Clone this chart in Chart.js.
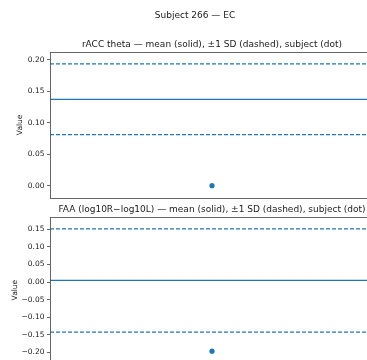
<!DOCTYPE html>
<html>
<head>
<meta charset="utf-8">
<script src="https://cdn.jsdelivr.net/npm/chart.js@4/dist/chart.umd.min.js"></script>
<style>
  html, body { margin: 0; padding: 0; background: #fff; overflow: hidden; }
  #wrap { position: relative; width: 367px; height: 360px; overflow: hidden; }
  canvas { position: absolute; left: 0; }
  #top { top: 0; }
  #bottom { top: 200px; }
</style>
</head>
<body>
<div id="wrap">
  <canvas id="top" width="400" height="205"></canvas>
  <canvas id="bottom" width="400" height="175"></canvas>
</div>
<script>
// Figure text
const figureTitle = 'Subject 266 \u2014 EC';
const panelTitles = [
  'rACC theta \u2014 mean (solid), \u00b11 SD (dashed), subject (dot)',
  'FAA (log10R\u2212log10L) \u2014 mean (solid), \u00b11 SD (dashed), subject (dot)'
];
const yAxisLabel = 'Value';

// Group statistics and the subject's own value, one entry per panel
const meanValues = [0.1376, 0.0046];
const sdValues = [0.0561, 0.1470];
const subjectValues = [0.0005, -0.197];

// Axis ranges and tick labels
const xRange = [-1, 1];
const subjectX = 0;
const yRanges = [[-0.0186, 0.2127], [-0.232, 0.186]];
const yTicks = [
  [0.00, 0.05, 0.10, 0.15, 0.20],
  [-0.20, -0.15, -0.10, -0.05, 0.00, 0.05, 0.10, 0.15]
];

const C0 = '#1f77b4';
const FONT = "'DejaVu Sans', sans-serif";

function fmtTick(v) {
  const s = Math.abs(v).toFixed(2);
  return (v < -1e-9 ? '\u2212' : '') + s;
}

// Draws the axes box, the panel title, the y label and (optionally) the figure title
function frameAndText(idx, labelX, withFigureTitle) {
  return {
    id: 'frameAndText' + idx,
    afterDatasetsDraw(chart) {
      const { ctx, chartArea: a } = chart;
      ctx.save();
      ctx.strokeStyle = '#555';
      ctx.lineWidth = 0.9;
      ctx.strokeRect(Math.round(a.left) + 0.5, Math.round(a.top) + 0.5,
                     Math.round(a.right - a.left), Math.round(a.bottom - a.top));
      ctx.fillStyle = '#1a1a1a';
      ctx.textAlign = 'center';
      ctx.textBaseline = 'middle';
      ctx.font = '9px ' + FONT;
      ctx.fillText(panelTitles[idx], (a.left + a.right) / 2, a.top - 7.5);
      if (withFigureTitle) {
        ctx.fillText(figureTitle, 195, 16);
      }
      ctx.font = '7.5px ' + FONT;
      ctx.translate(labelX, (a.top + a.bottom) / 2);
      ctx.rotate(-Math.PI / 2);
      ctx.fillText(yAxisLabel, 0, 0);
      ctx.restore();
    }
  };
}

function makePanel(canvasId, idx, padding, labelX, withFigureTitle) {
  const mean = meanValues[idx];
  const sd = sdValues[idx];
  const hline = (y, dash) => ({
    data: [{ x: xRange[0], y: y }, { x: xRange[1], y: y }],
    showLine: true,
    borderColor: C0,
    borderWidth: 1.2,
    borderDash: dash,
    pointRadius: 0,
    pointHoverRadius: 0
  });
  return new Chart(document.getElementById(canvasId), {
    type: 'scatter',
    data: {
      datasets: [
        hline(mean, []),
        hline(mean + sd, [4, 2]),
        hline(mean - sd, [4, 2]),
        {
          data: [{ x: subjectX, y: subjectValues[idx] }],
          showLine: false,
          pointRadius: 2.6,
          pointBackgroundColor: C0,
          pointBorderWidth: 0
        }
      ]
    },
    options: {
      responsive: false,
      animation: false,
      events: [],
      layout: { padding: padding },
      plugins: { legend: { display: false }, tooltip: { enabled: false }, title: { display: false } },
      scales: {
        x: {
          type: 'linear',
          min: xRange[0],
          max: xRange[1],
          ticks: { display: false },
          grid: { display: false },
          border: { display: false },
          afterFit(s) { s.height = 0; }
        },
        y: {
          type: 'linear',
          min: yRanges[idx][0],
          max: yRanges[idx][1],
          afterBuildTicks(s) { s.ticks = yTicks[idx].map(v => ({ value: v })); },
          ticks: {
            callback: v => fmtTick(v),
            font: { family: FONT, size: 7.5 },
            color: '#222',
            padding: 2.5
          },
          grid: {
            display: true,
            drawOnChartArea: false,
            drawTicks: true,
            tickLength: 3,
            color: '#444',
            lineWidth: 0.8
          },
          border: { display: false },
          afterFit(s) { s.width = 50; }
        }
      }
    },
    plugins: [frameAndText(idx, labelX, withFigureTitle)]
  });
}

makePanel('top', 0, { left: 0, top: 52, right: 26, bottom: 7.3 }, 20, true);
makePanel('bottom', 1, { left: 0, top: 16.7, right: 26, bottom: 11.5 }, 15, false);
</script>
</body>
</html>
